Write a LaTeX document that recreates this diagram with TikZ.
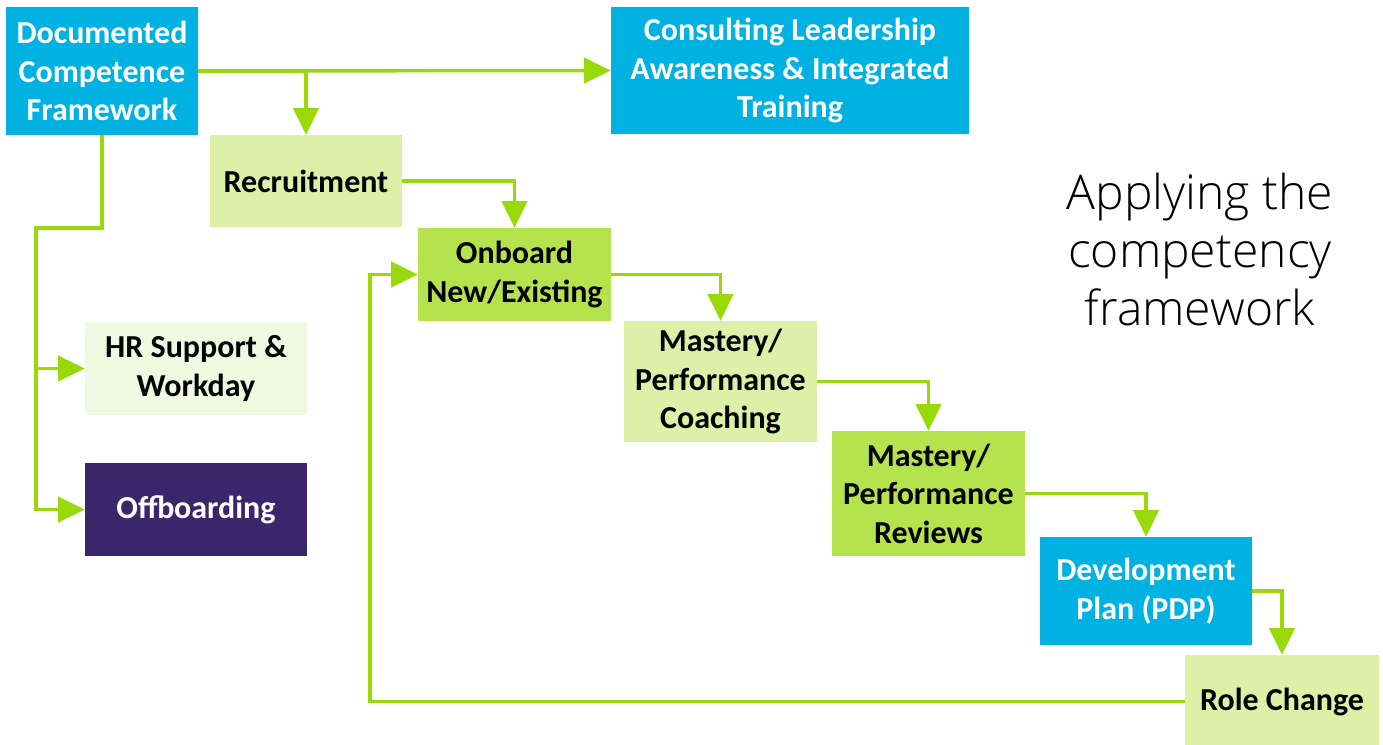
\documentclass[tikz,border=0pt]{standalone}
\usepackage{fontspec}
\setmainfont{Carlito}
\newfontfamily\headfont{Open Sans Light}
\usetikzlibrary{arrows.meta}
\definecolor{cyanbox}{RGB}{0,178,226}
\definecolor{limebox}{RGB}{220,240,168}
\definecolor{greenbox}{RGB}{180,227,78}
\definecolor{palebox}{RGB}{240,249,224}
\definecolor{purplebox}{RGB}{60,38,107}
\definecolor{flowgreen}{RGB}{153,217,10}
\tikzset{
  box/.style={inner sep=0pt, align=center, font=\bfseries\fontsize{24pt}{28.8pt}\selectfont},
  bluebox/.style={box, fill=cyanbox, text=white},
  lightbox/.style={box, fill=limebox, text=black},
  midbox/.style={box, fill=greenbox, text=black},
  paledbox/.style={box, fill=palebox, text=black},
  darkbox/.style={box, fill=purplebox, text=white},
  flow/.style={draw=flowgreen, line width=2.6pt, line join=miter},
  flowarrow/.style={flow, -{Triangle[length=20pt, width=19pt]}}
}
\begin{document}
\begin{tikzpicture}[x=0.75pt, y=-0.75pt]
\useasboundingbox (0,0) rectangle (1383,744);

% process boxes
\node[bluebox, minimum width=144pt, minimum height=96pt] (dcf) at (102,71) {Documented\\Competence\\Framework};
\node[bluebox, minimum width=268.5pt, minimum height=95.25pt] (cla) at (790,70.5) {Consulting Leadership\\Awareness \& Integrated\\Training};
\node[lightbox, minimum width=144pt, minimum height=69pt] (rec) at (306,181) {Recruitment};
\node[midbox, minimum width=144.75pt, minimum height=69.75pt] (onb) at (514.5,274.5) {Onboard\\New/Existing};
\node[paledbox, minimum width=166.5pt, minimum height=69.75pt] (hr) at (196,368.5) {HR Support \&\\Workday};
\node[darkbox, minimum width=166.5pt, minimum height=69.75pt] (off) at (196,509.5) {Offboarding};
\node[lightbox, minimum width=144.75pt, minimum height=90.75pt] (coach) at (720.5,381.5) {Mastery/\\Performance\\Coaching};
\node[midbox, minimum width=144.75pt, minimum height=93.75pt] (rev) at (928.5,493.5) {Mastery/\\Performance\\Reviews};
\node[bluebox, minimum width=159pt, minimum height=81pt] (pdp) at (1146,591) {Development\\Plan (PDP)};
\node[lightbox, minimum width=145.5pt, minimum height=69.75pt] (role) at (1282,701.5) {Role Change};

% title
\node[align=center, font=\headfont\fontsize{36pt}{43.5pt}\selectfont] (title) at (1200,249) {Applying the\\competency\\framework};

% connectors
\coordinate (split) at (36,228);
\coordinate (back) at (370,701.5);
\draw[flowarrow] (dcf.east) -- (cla.west);
\draw[flowarrow] (dcf.east) -| (rec.north);
\draw[flowarrow] (dcf.south) |- (split) |- (off.west);
\draw[flowarrow] (split) |- (hr.west);
\draw[flowarrow] (rec.east) -| (onb.north);
\draw[flowarrow] (onb.east) -| (coach.north);
\draw[flowarrow] (coach.east) -| (rev.north);
\draw[flowarrow] (rev.east) -| (pdp.north);
\draw[flowarrow] (pdp.east) -| (role.north);
\draw[flowarrow] (role.west) -- (back) |- (onb.west);
\end{tikzpicture}
\end{document}
